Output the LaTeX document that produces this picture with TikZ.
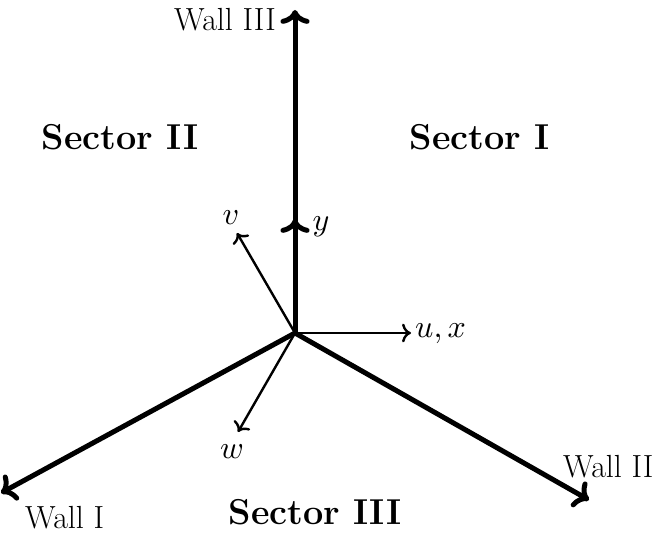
\documentclass[tikz,border=0pt]{standalone}
\usepackage{graphicx}
\usetikzlibrary{arrows.meta}
\newcommand{\bigmath}[1]{\scalebox{3.2}{\fontsize{10}{12}\selectfont$#1$}}
\begin{document}
\begin{tikzpicture}[x=1pt,y=-1pt,
  wall/.style={line width=5pt,-{To[scale=1.1]}},
  axis/.style={line width=2.4pt,-{To[scale=1.3]}},
  lbl/.style={inner sep=0pt,font=\fontsize{32}{38}\selectfont},
  sector/.style={inner sep=0pt,font=\fontsize{36}{43}\selectfont\bfseries}]
\useasboundingbox (0,0) rectangle (655,534);
\coordinate (O) at (295,333);
\coordinate (W1) at (1,493);
\coordinate (W2) at (589,500);
\coordinate (W3) at (295,10);
\coordinate (Y) at (295,219);
\coordinate (U) at (411,333);
\coordinate (V) at (237,233);
\coordinate (W) at (238,432);
\draw[wall] (O) -- (W1);
\draw[wall] (O) -- (W2);
\draw[wall] (O) -- (W3);
\draw[wall] (O) -- (Y);
\draw[axis] (O) -- (U);
\draw[axis] (O) -- (V);
\draw[axis] (O) -- (W);
\node[lbl,anchor=east] (l3) at (276,20) {Wall III};
\node[lbl,anchor=west] (l1) at (25,518) {Wall I};
\node[lbl,anchor=west] (l2) at (563,467) {Wall II};
\node[lbl] (lv) at (231,218) {\bigmath{v}};
\node[lbl] (ly) at (321,227) {\bigmath{y}};
\node[lbl] (lw) at (232,452) {\bigmath{w}};
\node[lbl,anchor=west] (lu) at (415,334) {\bigmath{u,x}};
\node[sector] (s2) at (120,137) {Sector II};
\node[sector] (s1) at (480,137) {Sector I};
\node[sector] (s3) at (315,512) {Sector III};
\end{tikzpicture}
\end{document}
